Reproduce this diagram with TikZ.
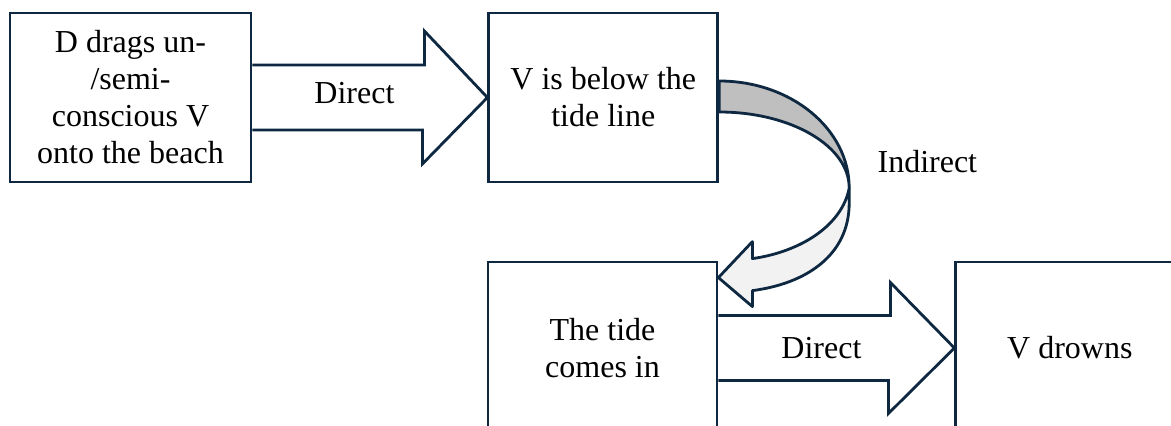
\documentclass[tikz,border=0pt]{standalone}
\usepackage{fontspec}
\setmainfont{Liberation Serif}
\usepackage{tikz}
\usetikzlibrary{positioning, calc}
\definecolor{edge}{HTML}{0E2841}
\definecolor{bandtop}{HTML}{BFBFBF}
\definecolor{bandlow}{HTML}{F2F2F2}

\begin{document}
\begin{tikzpicture}[
    x=0.5pt, y=0.5pt,
    box/.style={rectangle, draw=edge, line width=1.4pt, fill=white, align=center,
                inner sep=0pt, minimum height=84.5pt,
                font=\fontsize{16}{18.5}\selectfont},
    blockarr/.style={draw=edge, line width=1.4pt, fill=white, line join=miter},
    band/.style={draw=edge, line width=1.4pt, fill=#1, line join=round},
    lbl/.style={font=\fontsize{16}{18.5}\selectfont}
]
\useasboundingbox (0,0) rectangle (1171,425);
\clip (0,0) rectangle (1171,425);

% top row
\node[box, minimum width=120.5pt] (drag) at (130.5,327.5) {D drags un-\\/semi-\\conscious V\\onto the beach};
\node[box, minimum width=114.5pt, right=117.5pt of drag] (below) {V is below the\\tide line};

% bottom row (cut off by the frame)
\node[box, minimum width=114.5pt, minimum height=86pt] (tidein) at (602.5,77) {The tide\\comes in};
\node[box, minimum width=114pt, minimum height=86pt, right=118pt of tidein] (drowns) {V drowns};

% direct links
\draw[blockarr] ($(drag.east)+(0,32.5)$) -- ++(172,0) -- ++(0,34) -- (below.west)
    -- ++(-65,-66.5) -- ++(0,34) -- ($(drag.east)+(0,-32.5)$);
\draw[blockarr] ($(tidein.east)+(0,32.5)$) -- ++(172,0) -- ++(0,33) -- (drowns.west)
    -- ++(-66,-65.5) -- ++(0,33) -- ($(tidein.east)+(0,-32.5)$);
\node[lbl] (direct1) at ($(drag.east)+(102,4)$) {Direct};
\node[lbl] (direct2) at ($(tidein.east)+(103,0)$) {Direct};

% indirect link
\coordinate (turn) at ($(below.east)+(130,-90.5)$);
\coordinate (tip) at ($(tidein.north east)+(0,-17)$);
\draw[band=bandtop] ($(below.east)+(0,16.5)$)
    arc[start angle=90, end angle=0, x radius=130, y radius=107]
    arc[start angle=0, end angle=90, x radius=130, y radius=76] -- cycle;
\draw[band=bandlow] (turn) -- ++(0,-15) .. controls +(0,-52) and +(54,7) .. ($(tip)+(34,-13)$)
    -- ++(0,-16) -- (tip) -- ++(34,36) -- ++(0,-17)
    .. controls +(49,7) and +(-7,-37) .. (turn) -- cycle;
\node[lbl, anchor=base west, inner sep=0pt] (indirect) at ($(turn)+(28,16)$) {Indirect};
\end{tikzpicture}
\end{document}
